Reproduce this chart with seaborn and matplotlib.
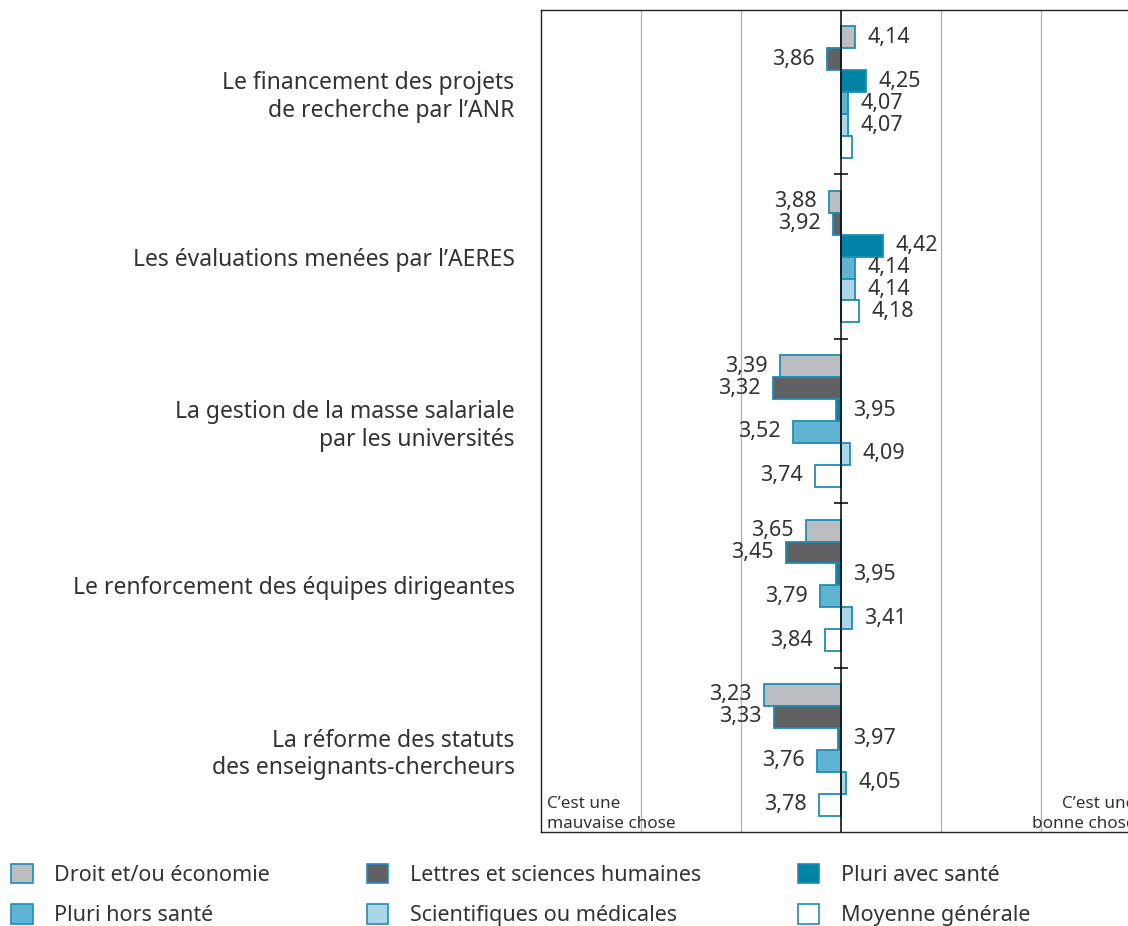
import numpy as np
import pandas as pd
import seaborn as sns
import matplotlib.pyplot as plt
from matplotlib.patches import Patch

questions = [
    "Le financement des projets\nde recherche par l’ANR",
    "Les évaluations menées par l’AERES",
    "La gestion de la masse salariale\npar les universités",
    "Le renforcement des équipes dirigeantes",
    "La réforme des statuts\ndes enseignants-chercheurs",
]
series = ["Droit et/ou économie", "Lettres et sciences humaines", "Pluri avec santé",
          "Pluri hors santé", "Scientifiques ou médicales", "Moyenne générale"]

droit = [4.14, 3.88, 3.39, 3.65, 3.23]
lettres = [3.86, 3.92, 3.32, 3.45, 3.33]
pluri_sante = [4.25, 4.42, 3.95, 3.95, 3.97]
pluri_hors = [4.07, 4.14, 3.52, 3.79, 3.76]
scientif = [4.07, 4.14, 4.09, 4.11, 4.05]
moyenne = [4.11, 4.18, 3.74, 3.84, 3.78]

# labels printed differently from the bar in the source
printed = {(4, 3): "3,41", (5, 0): ""}

colors = ["#bcbdc0", "#616163", "#0083a6", "#5fb4d1", "#acd6e6", "#ffffff"]
edge = "#1f8db5"
midpoint = 4

all_vals = [droit, lettres, pluri_sante, pluri_hors, scientif, moyenne]
rows = []
for s, vals in zip(series, all_vals):
    for q, v in zip(questions, vals):
        rows.append({"question": q, "serie": s, "valeur": v, "diff": v - midpoint})
df = pd.DataFrame(rows)

sns.set_style("white")
plt.rcParams["font.family"] = ["Noto Sans", "DejaVu Sans"]
txt = "#333333"

fig = plt.figure(figsize=(11.28, 9.26), dpi=100)
ax = fig.add_axes([541 / 1128, 1 - 832 / 926, 600 / 1128, 822 / 926])

for g in [-2, -1, 1, 2]:
    ax.axvline(g, color="#b5b5b5", lw=1, zorder=0)

sns.barplot(data=df, y="question", x="diff", hue="serie", order=questions,
            hue_order=series, palette=colors, orient="h", width=0.8,
            saturation=1, edgecolor=edge, linewidth=1.3, legend=False,
            errorbar=None, ax=ax, zorder=2)

ax.axvline(0, color="black", lw=1.1, zorder=3)
bounds = np.arange(len(questions) - 1) + 0.5
ax.plot(np.zeros_like(bounds), bounds, ls="none", marker="_", ms=10,
        mew=1.1, color="black", zorder=3)

for j, cont in enumerate(ax.containers):
    for i, bar in enumerate(cont):
        v = all_vals[j][i]
        lab = printed.get((j, i), f"{v:.2f}".replace(".", ","))
        if not lab:
            continue
        w = bar.get_width()
        yc = bar.get_y() + bar.get_height() / 2
        if w >= 0 or abs(w) < 0.06:
            ax.annotate(lab, (max(w, 0), yc), xytext=(9, 0), textcoords="offset points",
                        ha="left", va="center", fontsize=15.5, color=txt)
        else:
            ax.annotate(lab, (w, yc), xytext=(-9, 0), textcoords="offset points",
                        ha="right", va="center", fontsize=15.5, color=txt)

ax.set_xlim(-3, 3)
ax.set_ylim(len(questions) - 0.5, -0.5)
ax.set_xticks([])
ax.set_xlabel("")
ax.set_ylabel("")
ax.tick_params(axis="y", length=0, pad=19, labelsize=16.5, labelcolor=txt)
for sp in ax.spines.values():
    sp.set_visible(True)
    sp.set_color("#222222")
    sp.set_linewidth(1)

ax.text(0.01, 0.0, "C’est une\nmauvaise chose", transform=ax.transAxes,
        ha="left", va="bottom", fontsize=12.3, color=txt, linespacing=1.3)
ax.text(0.99, 0.0, "C’est une\nbonne chose", transform=ax.transAxes,
        ha="right", va="bottom", fontsize=12.3, color=txt, multialignment="right",
        linespacing=1.3)

handles = [Patch(facecolor=c, edgecolor=edge, linewidth=1.2, label=s)
           for c, s in zip(colors, series)]
order = [0, 3, 1, 4, 2, 5]
fig.legend([handles[k] for k in order], [series[k] for k in order], ncol=3,
           loc="upper left", bbox_to_anchor=(11 / 1128, 1 - 864 / 926),
           frameon=False, fontsize=15.5, handlelength=1.0, handleheight=1.0,
           handletextpad=1.0, columnspacing=4.5, labelspacing=0.85,
           borderpad=0, borderaxespad=0, labelcolor=txt)

fig.savefig("out.png", dpi=100)
